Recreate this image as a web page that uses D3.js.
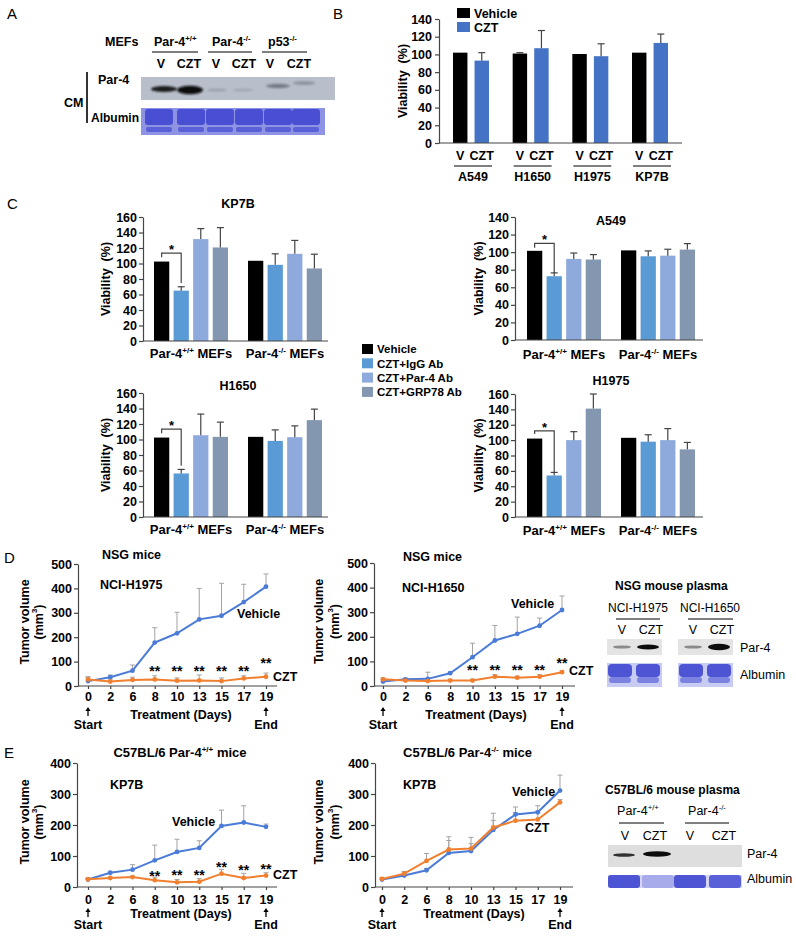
<!DOCTYPE html>
<html><head><meta charset="utf-8">
<script src="https://cdn.jsdelivr.net/npm/d3@7/dist/d3.min.js"></script>
<style>html,body{margin:0;padding:0;background:#fff;}</style>
</head><body>
<svg id="fig" width="796" height="937" style="display:block;font-family:'Liberation Sans',Arial,Helvetica,sans-serif"></svg>
<script>
// ================= DATA =================
// Panel A (blot labels)
const mefLanes = ["V","CZT","V","CZT","V","CZT"];
const mefGenotypes = ["Par-4^{+/+}","Par-4^{-/-}","p53^{-/-}"];

// Panel B
const cellLines = ["A549","H1650","H1975","KP7B"];
const bConditions = ["V","CZT"];
const bVehicle = [102, 101, 100.5, 102];
const bVehicleErr = [102, 102, 100.5, 102];
const bCZT = [93, 107, 98, 113];
const bCZTErr = [102, 127, 112, 123];
const viabilityTicks140 = [0,20,40,60,80,100,120,140];
const viabilityTicks160 = [0,20,40,60,80,100,120,140,160];

// Panel C
const mefGroups = ["Par-4^{+/+} MEFs","Par-4^{-/-} MEFs"];
const treatments = ["Vehicle","CZT+IgG Ab","CZT+Par-4 Ab","CZT+GRP78 Ab"];
const kp7bMeans  = [[102.5,65,131.5,120.7],[103.5,98.3,112.5,93.6]];
const kp7bErr    = [[102.5,70,145,146.3],[103.5,112.5,129.8,112]];
const a549Means  = [[101.5,72.6,92.3,91.6],[102,95.3,96,102.9]];
const a549Err    = [[101.5,76.4,99,97.2],[102,101.4,103.3,109.7]];
const h1650Means = [[102.5,56.2,105.5,103.4],[103.4,98.2,103,125]];
const h1650Err   = [[102.5,61.4,132.8,122.4],[103.4,112.4,117.6,139.2]];
const h1975Means = [[102,54,100,141],[103,98,100,88]];
const h1975Err   = [[102,58,111,160],[103,107,115,97]];
// significance bracket: [top, left leg end, right leg end]
const kp7bSig  = [113.5,108,75];
const a549Sig  = [110,105,76];
const h1650Sig = [113.5,108,66];
const h1975Sig = [112,108,57];

// Panels D / E
const days = ["0","2","6","8","10","13","15","17","19"];
const tumorTicks500 = [0,100,200,300,400,500];
const tumorTicks400 = [0,100,200,300,400];

const nsgH1975Vehicle    = [20, 36, 63, 178, 216, 273, 288, 344, 407];
const nsgH1975VehicleErr = [36, 45, 86, 239, 302, 400, 421, 417, 459];
const nsgH1975CZT        = [27, 18, 25, 27, 22, 23, 20, 31, 38];
const nsgH1975CZTErr     = [38, 28, 36, 42, 33, 45, 33, 42, 53];
const nsgH1975StarDays   = ["8","10","13","15","17","19"];
const nsgH1975StarLevel  = [74, 74, 74, 74, 74, 107];

const nsgH1650Vehicle    = [18, 27, 29, 52, 117, 185, 212, 245, 309];
const nsgH1650VehicleErr = [25, 32, 56, 56, 174, 246, 280, 276, 366];
const nsgH1650CZT        = [27, 22, 20, 22, 22, 38, 34, 38, 56];
const nsgH1650CZTErr     = [33, 28, 27, 28, 28, 46, 40, 46, 62];
const nsgH1650StarDays   = ["10","13","15","17","19"];
const nsgH1650StarLevel  = [77, 77, 77, 77, 106];

const wtKP7BVehicle    = [24, 46, 56, 86, 113, 126, 197, 208, 194];
const wtKP7BVehicleErr = [28, 50, 72, 135, 154, 149, 248, 262, 203];
const wtKP7BCZT        = [25, 29, 32, 22, 15, 17, 43, 29, 37];
const wtKP7BCZTErr     = [28, 32, 35, 32, 24, 27, 57, 44, 46];
const wtKP7BStarDays   = ["8","10","13","15","17","19"];
const wtKP7BStarLevel  = [45, 48, 48, 74, 65, 68];

const koKP7BVehicle    = [24, 37, 54, 110, 116, 184, 234, 241, 311];
const koKP7BVehicleErr = [28, 45, 60, 150, 140, 215, 258, 262, 361];
const koKP7BCZT        = [26, 43, 84, 121, 124, 192, 214, 218, 273];
const koKP7BCZTErr     = [30, 50, 108, 162, 160, 238, 240, 245, 282];

// ================= DRAWING =================
const svg = d3.select("#fig");
const treatColors = ["#000000","#5b9bd5","#8eaadc","#8497b0"];
const bColors = ["#000000","#4472c4"];
const vehColor = "#4a7bd6", cztColor = "#f08030";
const axisColor = "#454545";
const NB = "\u00a0";

const defs = svg.append("defs");
defs.append("filter").attr("id","blur").attr("x","-30%").attr("y","-60%").attr("width","160%").attr("height","220%")
  .append("feGaussianBlur").attr("stdDeviation",1.1);
defs.append("filter").attr("id","blur2").attr("x","-30%").attr("y","-60%").attr("width","160%").attr("height","220%")
  .append("feGaussianBlur").attr("stdDeviation",0.7);

function rich(t, s, size) {
  const parts = s.split(/(\^\{[^}]*\})/).filter(p => p.length);
  let raised = false;
  const sh = size * 0.42;
  parts.forEach(p => {
    const m = p.match(/^\^\{([^}]*)\}$/);
    if (m) {
      t.append("tspan").attr("dy", raised ? 0 : -sh).attr("font-size", size * 0.62).text(m[1]);
      raised = true;
    } else {
      const ts = t.append("tspan").text(p);
      if (raised) { ts.attr("dy", sh); raised = false; }
    }
  });
}
function txt(x, y, s, o = {}) {
  const size = o.size || 12;
  const t = svg.append("text").attr("x", x).attr("y", y)
    .attr("font-size", size).attr("font-weight", o.weight || "bold")
    .attr("text-anchor", o.anchor || "start").attr("fill", o.fill || "#000");
  if (o.rotate) t.attr("transform", `rotate(-90,${x},${y})`);
  rich(t, s, size);
  return t;
}
function rtxt(cx, cy, s, size) { // rotated, centered label
  return txt(cx + size * 0.36, cy, s, {anchor: "middle", rotate: true, size: size});
}
function styleAxis(g, size) {
  g.select(".domain").attr("stroke", axisColor).attr("stroke-width", 1.2);
  g.selectAll(".tick line").attr("stroke", axisColor).attr("stroke-width", 1.2);
  g.selectAll(".tick text").attr("font-size", size).attr("font-weight", "bold").attr("fill", "#000")
    .attr("font-family", "'Liberation Sans',Arial,sans-serif");
}

// ---------- Panel letters ----------
[["A",7,19],["B",333,19],["C",7,209],["D",4,563],["E",4,758]].forEach(([l,x,y]) =>
  txt(x, y, l, {size: 15, weight: "normal"}));

// ---------- Panel A (blot) ----------
txt(105, 46, "MEFs", {size: 12.5});
[[154,0],[212,1],[268,2]].forEach(([x,i]) => txt(x, 46, mefGenotypes[i], {size: 12.5}));
[[152,198],[208,252],[262,307]].forEach(([a,b]) =>
  svg.append("line").attr("x1",a).attr("x2",b).attr("y1",52).attr("y2",52).attr("stroke","#000").attr("stroke-width",1.2));
[161,189,216,244,270,299].forEach((x,i) => txt(x, 68, mefLanes[i], {size: 12.5, anchor: "middle"}));
txt(98, 84, "Par-4", {size: 12.5});
txt(91, 122, "Albumin", {size: 12});
txt(64, 107, "CM", {size: 12.5});
svg.append("line").attr("x1",87).attr("x2",87).attr("y1",72).attr("y2",123).attr("stroke","#000").attr("stroke-width",1.6);
svg.append("rect").attr("x",141).attr("y",77).attr("width",194).attr("height",23).attr("fill","#b8bfca");
[[164,89,13,3,"#1a1a1a",1],[190,90,13,4.2,"#0d0d0d",1],[217,90,10,1.3,"#8b919b",0.7],[243,90,10,1.3,"#8f959f",0.6],
 [278,86,12,2.2,"#6c737e",0.9],[304,83,11,1.8,"#7d848f",0.8]].forEach(([cx,cy,rx,ry,c,o]) =>
  svg.append("ellipse").attr("cx",cx).attr("cy",cy).attr("rx",rx).attr("ry",ry).attr("fill",c).attr("opacity",o).attr("filter","url(#blur)"));
svg.append("rect").attr("x",141).attr("y",108).attr("width",184).attr("height",27).attr("fill","#8e93e4");
[159,191,220,249,278,306].forEach(c => {
  svg.append("rect").attr("x",c-14).attr("y",109).attr("width",28).attr("height",16).attr("rx",3).attr("fill","#4a50d2").attr("filter","url(#blur2)");
  svg.append("rect").attr("x",c-13).attr("y",127).attr("width",26).attr("height",5).attr("rx",2).attr("fill","#5a60d8").attr("filter","url(#blur2)");
});

// ---------- Panel B ----------
(function panelB() {
  const y = d3.scaleLinear().domain([0,140]).range([143,19]);
  const x0 = d3.scaleBand().domain(cellLines).range([453,668]).paddingInner(0.397).paddingOuter(0);
  const x1 = d3.scaleBand().domain(bConditions).range([0,x0.bandwidth()]).paddingInner(0.33).paddingOuter(0);
  const rows = [];
  cellLines.forEach((c,i) => {
    rows.push({c, k:"V", v:bVehicle[i], e:bVehicleErr[i], col:bColors[0]});
    rows.push({c, k:"CZT", v:bCZT[i], e:bCZTErr[i], col:bColors[1]});
  });
  const g = svg.append("g");
  g.selectAll("rect").data(rows).join("rect")
    .attr("x", d => x0(d.c)+x1(d.k)).attr("y", d => y(d.v)).attr("width", x1.bandwidth())
    .attr("height", d => y(0)-y(d.v)).attr("fill", d => d.col);
  const cx = d => x0(d.c)+x1(d.k)+x1.bandwidth()/2;
  const eb = rows.filter(d => d.e > d.v + 0.3);
  g.selectAll("line.e").data(eb).join("line").attr("class","e").attr("x1",cx).attr("x2",cx)
    .attr("y1", d => y(d.v)).attr("y2", d => y(d.e)).attr("stroke","#444").attr("stroke-width",1.2);
  g.selectAll("line.c").data(eb).join("line").attr("class","c").attr("x1", d=>cx(d)-3.5).attr("x2", d=>cx(d)+3.5)
    .attr("y1", d => y(d.e)).attr("y2", d => y(d.e)).attr("stroke","#444").attr("stroke-width",1.2);
  const ax = g.append("g").attr("transform","translate(439,0)")
    .call(d3.axisLeft(y).tickValues(viabilityTicks140).tickSize(4).tickSizeOuter(0).tickPadding(3));
  styleAxis(ax, 12.5);
  g.append("line").attr("x1",439).attr("x2",682).attr("y1",y(0)).attr("y2",y(0)).attr("stroke",axisColor).attr("stroke-width",1.2);
  rows.forEach(d => txt(cx(d), 160, d.k, {anchor:"middle", size:12.5}));
  cellLines.forEach(c => {
    g.append("line").attr("x1",x0(c)+1).attr("x2",x0(c)+x0.bandwidth()+3).attr("y1",166).attr("y2",166)
      .attr("stroke","#000").attr("stroke-width",1.2);
    txt(x0(c)+x0.bandwidth()/2+2, 181, c, {anchor:"middle", size:12.5});
  });
  rtxt(402, 81, "Viability" + NB + NB + "(%)", 12.5);
  // legend
  [["Vehicle",0,8],["CZT",1,22]].forEach(([l,i,yy]) => {
    g.append("rect").attr("x",457).attr("y",yy).attr("width",13).attr("height",10).attr("fill",bColors[i]);
    txt(474, yy+9.5, l, {size:12.5});
  });
})();

// ---------- Panel C ----------
function barChart(o) {
  const y = d3.scaleLinear().domain([0,o.yMax]).range([o.y0,o.yTop]);
  const x0 = d3.scaleBand().domain(mefGroups).range(o.xr).paddingInner(0.213).paddingOuter(0);
  const x1 = d3.scaleBand().domain(treatments).range([0,x0.bandwidth()]).paddingInner(0.22).paddingOuter(0);
  const rows = [];
  mefGroups.forEach((grp,gi) => treatments.forEach((t,ti) =>
    rows.push({grp, t, ti, v:o.means[gi][ti], e:o.err[gi][ti]})));
  const g = svg.append("g");
  const cx = d => x0(d.grp)+x1(d.t)+x1.bandwidth()/2;
  g.selectAll("rect").data(rows).join("rect")
    .attr("x", d => x0(d.grp)+x1(d.t)).attr("y", d => y(d.v)).attr("width", x1.bandwidth())
    .attr("height", d => y(0)-y(d.v)).attr("fill", d => treatColors[d.ti]);
  const eb = rows.filter(d => d.e > d.v + 0.3);
  g.selectAll("line.e").data(eb).join("line").attr("class","e").attr("x1",cx).attr("x2",cx)
    .attr("y1", d => y(d.v)).attr("y2", d => y(d.e)).attr("stroke","#444").attr("stroke-width",1.2);
  g.selectAll("line.c").data(eb).join("line").attr("class","c").attr("x1", d=>cx(d)-3.5).attr("x2", d=>cx(d)+3.5)
    .attr("y1", d => y(d.e)).attr("y2", d => y(d.e)).attr("stroke","#444").attr("stroke-width",1.2);
  const ax = g.append("g").attr("transform",`translate(${o.axisX[0]},0)`)
    .call(d3.axisLeft(y).tickValues(o.ticks).tickSize(4).tickSizeOuter(0).tickPadding(2));
  styleAxis(ax, 12.5);
  g.append("line").attr("x1",o.axisX[0]).attr("x2",o.axisX[1]).attr("y1",y(0)).attr("y2",y(0))
    .attr("stroke",axisColor).attr("stroke-width",1.2);
  mefGroups.forEach(grp => txt(x0(grp)+x0.bandwidth()/2, o.catY, grp, {anchor:"middle", size:13}));
  txt((o.xr[0]+o.xr[1])/2, o.titleY, o.title, {anchor:"middle", size:12.5});
  rtxt(o.ylabX, (o.y0+o.yTop)/2, "Viability" + NB + NB + "(%)", 12.5);
  const xa = x0(mefGroups[0])+x1(treatments[0])+x1.bandwidth()/2;
  const xb = x0(mefGroups[0])+x1(treatments[1])+x1.bandwidth()/2;
  g.append("path").attr("d", `M${xa},${y(o.sig[1])}V${y(o.sig[0])}H${xb}V${y(o.sig[2])}`)
    .attr("fill","none").attr("stroke","#444").attr("stroke-width",1.2);
  txt((xa+xb)/2, y(o.sig[0])+1, "*", {anchor:"middle", size:13});
}
barChart({means:kp7bMeans, err:kp7bErr, sig:kp7bSig, yMax:160, ticks:viabilityTicks160, y0:341, yTop:217,
  xr:[154,322], axisX:[143,328], catY:358, title:"KP7B", titleY:207.5, ylabX:105});
barChart({means:a549Means, err:a549Err, sig:a549Sig, yMax:140, ticks:viabilityTicks140, y0:340, yTop:217,
  xr:[527,695], axisX:[515,703], catY:359, title:"A549", titleY:224.5, ylabX:478});
barChart({means:h1650Means, err:h1650Err, sig:h1650Sig, yMax:160, ticks:viabilityTicks160, y0:517, yTop:393,
  xr:[154,322], axisX:[143,328], catY:534, title:"H1650", titleY:389.5, ylabX:105});
barChart({means:h1975Means, err:h1975Err, sig:h1975Sig, yMax:160, ticks:viabilityTicks160, y0:517, yTop:394,
  xr:[527,695], axisX:[515,703], catY:535, title:"H1975", titleY:384.5, ylabX:478});
// legend C
treatments.forEach((t,i) => {
  const cy = 349 + i*14.3;
  svg.append("rect").attr("x",362).attr("y",cy-5).attr("width",11).attr("height",10).attr("fill",treatColors[i]);
  txt(377, cy+4.2, t, {size:11.5});
});

// ---------- Panels D / E line charts ----------
function arrow(x, yTop) {
  svg.append("path").attr("d", `M${x-2.6},${yTop+4}L${x},${yTop}L${x+2.6},${yTop+4}Z`).attr("fill","#000");
  svg.append("line").attr("x1",x).attr("x2",x).attr("y1",yTop+3).attr("y2",yTop+9).attr("stroke","#000").attr("stroke-width",1.3);
}
function lineChart(o) {
  const x = d3.scalePoint().domain(days).range(o.xr);
  const y = d3.scaleLinear().domain([0,o.yMax]).range([o.y0,o.yTop]);
  const g = svg.append("g");
  const ax = g.append("g").attr("transform",`translate(${o.axisX[0]},0)`)
    .call(d3.axisLeft(y).tickValues(o.ticks).tickSize(4).tickSizeOuter(0).tickPadding(2));
  styleAxis(ax, 12.5);
  const bx = g.append("g").attr("transform",`translate(0,${o.y0})`)
    .call(d3.axisBottom(x).tickSize(3).tickPadding(o.xPad));
  bx.select(".domain").remove();
  styleAxis(bx, 12.5);
  g.append("line").attr("x1",o.axisX[0]).attr("x2",o.axisX[1]).attr("y1",o.y0).attr("y2",o.y0)
    .attr("stroke",axisColor).attr("stroke-width",1.2);
  const series = [[o.veh,o.vehErr,vehColor],[o.czt,o.cztErr,cztColor]];
  series.forEach(([vals,errs]) => {
    days.forEach((d,i) => {
      if (errs[i] > vals[i] + 1) {
        g.append("line").attr("x1",x(d)).attr("x2",x(d)).attr("y1",y(vals[i])).attr("y2",y(errs[i]))
          .attr("stroke","#a3a3a3").attr("stroke-width",1);
        g.append("line").attr("x1",x(d)-2.5).attr("x2",x(d)+2.5).attr("y1",y(errs[i])).attr("y2",y(errs[i]))
          .attr("stroke","#a3a3a3").attr("stroke-width",1);
      }
    });
  });
  series.forEach(([vals,,col]) => {
    const pts = days.map((d,i) => [x(d), y(vals[i])]);
    g.append("path").attr("d", d3.line()(pts)).attr("fill","none").attr("stroke",col).attr("stroke-width",2);
    g.selectAll(null).data(pts).join("circle").attr("cx",p=>p[0]).attr("cy",p=>p[1]).attr("r",2.4).attr("fill",col);
  });
  if (o.starDays) o.starDays.forEach((d,i) => txt(x(d), y(o.starLevel[i])+8, "**", {anchor:"middle", size:14}));
  arrow(x(days[0]), o.arrowY);
  arrow(x(days[days.length-1]), o.arrowY);
  txt(x(days[0]), o.startY, "Start", {anchor:"middle", size:12.5});
  txt(x(days[days.length-1]), o.startY, "End", {anchor:"middle", size:12.5});
  txt(o.treatX, o.treatY, "Treatment (Days)", {anchor:"middle", size:12.5});
  rtxt(o.ylabX[0], (o.y0+o.yTop)/2 - 3, "Tumor volume", 12.5);
  rtxt(o.ylabX[1], (o.y0+o.yTop)/2 - 3, "(mm^{3})", 12.5);
  txt(o.vehLabel[0], o.vehLabel[1], "Vehicle", {size:12.5});
  txt(o.cztLabel[0], o.cztLabel[1], "CZT", {size:12.5});
}
lineChart({veh:nsgH1975Vehicle, vehErr:nsgH1975VehicleErr, czt:nsgH1975CZT, cztErr:nsgH1975CZTErr,
  starDays:nsgH1975StarDays, starLevel:nsgH1975StarLevel, yMax:500, ticks:tumorTicks500,
  y0:686, yTop:564, xr:[88,266], axisX:[78,277], xPad:3, arrowY:707, startY:729, treatX:181, treatY:719,
  ylabX:[24,38], vehLabel:[237,618], cztLabel:[273,681]});
txt(102, 559, "NSG mice", {size:12.5});
txt(100, 589, "NCI-H1975", {size:12.5});

lineChart({veh:nsgH1650Vehicle, vehErr:nsgH1650VehicleErr, czt:nsgH1650CZT, cztErr:nsgH1650CZTErr,
  starDays:nsgH1650StarDays, starLevel:nsgH1650StarLevel, yMax:500, ticks:tumorTicks500,
  y0:686, yTop:563, xr:[383,562], axisX:[374,575], xPad:3, arrowY:707, startY:729, treatX:476, treatY:719,
  ylabX:[318,334], vehLabel:[511,608], cztLabel:[569,675]});
txt(403, 561, "NSG mice", {size:12.5});
txt(402, 592, "NCI-H1650", {size:12.5});

lineChart({veh:wtKP7BVehicle, vehErr:wtKP7BVehicleErr, czt:wtKP7BCZT, cztErr:wtKP7BCZTErr,
  starDays:wtKP7BStarDays, starLevel:wtKP7BStarLevel, yMax:400, ticks:tumorTicks400,
  y0:887, yTop:763, xr:[88,266], axisX:[77,277], xPad:5, arrowY:908, startY:929, treatX:181, treatY:918,
  ylabX:[24,38], vehLabel:[172,826], cztLabel:[273,879]});
txt(180, 757, "C57BL/6 Par-4^{+/+} mice", {size:13, anchor:"middle"});
txt(110, 789, "KP7B", {size:12.5});

lineChart({veh:koKP7BVehicle, vehErr:koKP7BVehicleErr, czt:koKP7BCZT, cztErr:koKP7BCZTErr,
  yMax:400, ticks:tumorTicks400,
  y0:887, yTop:763, xr:[382,560], axisX:[375,573], xPad:5, arrowY:908, startY:929, treatX:474, treatY:918,
  ylabX:[318,334], vehLabel:[512,796], cztLabel:[525,832]});
txt(403, 757, "C57BL/6 Par-4^{-/-} mice", {size:13});
txt(403, 789, "KP7B", {size:12.5});

// ---------- D blot (NSG mouse plasma) ----------
txt(615, 590, "NSG mouse plasma", {size:12});
txt(638, 612, "NCI-H1975", {size:12, weight:"normal", anchor:"middle"});
txt(710, 612, "NCI-H1650", {size:12, weight:"normal", anchor:"middle"});
[[616,660],[688,733]].forEach(([a,b]) =>
  svg.append("line").attr("x1",a).attr("x2",b).attr("y1",619).attr("y2",619).attr("stroke","#000").attr("stroke-width",1));
[[622,"V"],[651,"CZT"],[693,"V"],[722,"CZT"]].forEach(([x,l]) => txt(x, 634, l, {size:12.5, weight:"normal", anchor:"middle"}));
[[607,662],[678,733]].forEach(([a,b],i) => {
  svg.append("rect").attr("x",a).attr("y",639).attr("width",b-a).attr("height",16).attr("fill","#e4e4e4");
  svg.append("ellipse").attr("cx",a+15).attr("cy",647).attr("rx",9).attr("ry",1.6).attr("fill","#8a8a8a").attr("filter","url(#blur2)");
  svg.append("ellipse").attr("cx",a+41).attr("cy",647).attr("rx",11).attr("ry",i ? 3.2 : 2.6).attr("fill","#111").attr("filter","url(#blur2)");
  svg.append("rect").attr("x",a).attr("y",663).attr("width",b-a).attr("height",24).attr("fill","#c9ccf2");
  [a+13, a+41].forEach(c => {
    svg.append("rect").attr("x",c-12).attr("y",664).attr("width",24).attr("height",13).attr("rx",4).attr("fill","#4d54d4").attr("filter","url(#blur2)");
    svg.append("rect").attr("x",c-11).attr("y",677).attr("width",22).attr("height",6).attr("rx",3).attr("fill","#7c82e0").attr("filter","url(#blur2)");
  });
});
txt(740, 652, "Par-4", {size:12.5, weight:"normal"});
txt(740, 679, "Albumin", {size:12.5, weight:"normal"});

// ---------- E blot (C57BL/6 mouse plasma) ----------
txt(605, 794, "C57BL/6 mouse plasma", {size:12});
txt(638, 815, "Par-4^{+/+}", {size:12.5, weight:"normal", anchor:"middle"});
txt(707, 815, "Par-4^{-/-}", {size:12.5, weight:"normal", anchor:"middle"});
[[619,664],[685,729]].forEach(([a,b]) =>
  svg.append("line").attr("x1",a).attr("x2",b).attr("y1",823).attr("y2",823).attr("stroke","#000").attr("stroke-width",1));
[[625,"V"],[655,"CZT"],[690,"V"],[724,"CZT"]].forEach(([x,l]) => txt(x, 840, l, {size:12.5, weight:"normal", anchor:"middle"}));
svg.append("rect").attr("x",608).attr("y",845).attr("width",134).attr("height",22).attr("fill","#dedede");
svg.append("ellipse").attr("cx",624).attr("cy",855).attr("rx",11).attr("ry",1.8).attr("fill","#333").attr("filter","url(#blur2)");
svg.append("ellipse").attr("cx",657).attr("cy",854).attr("rx",14).attr("ry",2.8).attr("fill","#111").attr("filter","url(#blur2)");
svg.append("rect").attr("x",608).attr("y",875).attr("width",134).attr("height",13).attr("fill","#d4d6f4");
[[624,"#4d54d4"],[658,"#a7abea"],[690,"#4d54d4"],[725,"#5a60d8"]].forEach(([c,col]) =>
  svg.append("rect").attr("x",c-16).attr("y",875).attr("width",32).attr("height",13).attr("rx",3).attr("fill",col).attr("filter","url(#blur2)"));
txt(747, 858, "Par-4", {size:12.5, weight:"normal"});
txt(747, 883, "Albumin", {size:12.5, weight:"normal"});
</script>
</body></html>
